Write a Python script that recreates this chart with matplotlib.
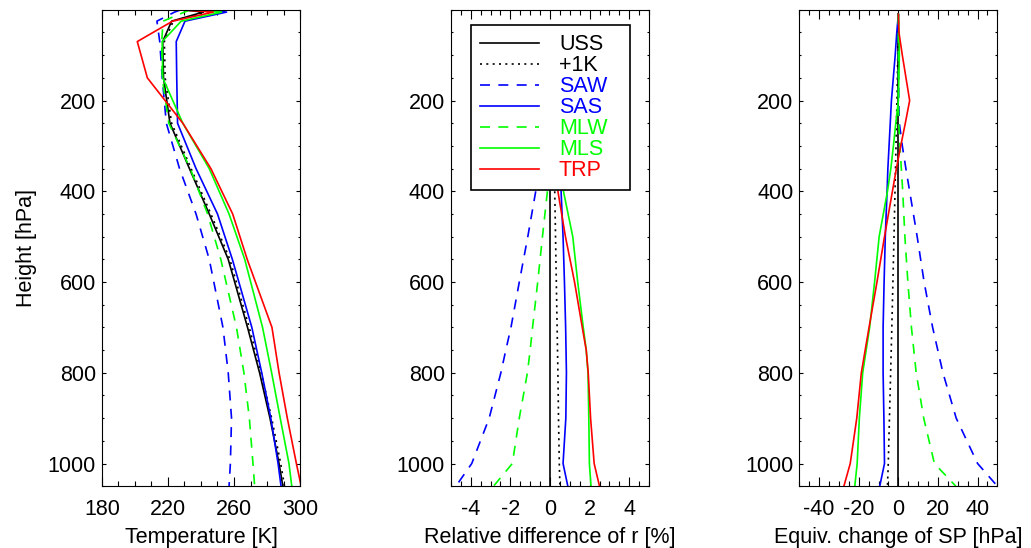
import matplotlib
matplotlib.use('Agg')
import matplotlib.pyplot as plt
from matplotlib.ticker import MultipleLocator

plt.rcParams['font.family'] = ['Liberation Sans', 'DejaVu Sans']
plt.rcParams['font.size'] = 15.5
plt.rcParams['axes.unicode_minus'] = False

names = ['USS', '+1K', 'SAW', 'SAS', 'MLW', 'MLS', 'TRP']
colors = ['black', 'black', 'blue', 'blue', '#00ff00', '#00ff00', 'red']
styles = ['-', (0, (1.2, 2.6)), (0, (6, 5)), '-', (0, (6, 5)), '-', '-']

# temperature profiles [K]
p_temp = [1, 5, 25, 70, 150, 250, 350, 450, 550, 700, 800, 900, 1000, 1050]
t_uss = [232, 241.4, 222.2, 216.8, 217.3, 221.2, 233, 245, 256.5, 268.2, 275.5, 281.8, 287.3, 289.6]
t_p1k = [233, 242.4, 223.2, 217.8, 218.3, 222.2, 234, 246, 257.5, 269.2, 276.5, 282.8, 288.3, 290.6]
t_saw = [227, 224, 213.3, 215, 216.5, 219, 227, 237, 245, 253.3, 256.5, 258.5, 257.8, 257]
t_sas = [245, 255.5, 230.3, 225, 225.3, 225.8, 237, 250, 259, 270.8, 276.8, 282.3, 286.7, 288.5]
t_mlw = [233, 230, 217, 216.2, 216.5, 220.5, 233.5, 244, 252, 261.5, 266, 269.3, 271.5, 272.5]
t_mls = [238, 252.5, 228, 216.5, 216.8, 229, 245, 257, 266.5, 277.3, 282.8, 288, 293.3, 295]
t_trp = [232, 247.5, 222.8, 201.4, 207.5, 229, 246, 259.2, 268, 283, 287.3, 292.3, 297.8, 300.7]

# relative difference of r [%], below 400 hPa
p_rel = [400, 500, 600, 700, 750, 800, 900, 1000, 1050]
r_uss = [0, 0, 0, 0, 0, 0, 0, 0, 0]
r_p1k = [0.24, 0.28, 0.32, 0.36, 0.38, 0.4, 0.43, 0.47, 0.5]
r_saw = [-0.72, -1.12, -1.55, -1.97, -2.23, -2.48, -3.07, -3.95, -4.75]
r_sas = [0.56, 0.66, 0.73, 0.79, 0.81, 0.83, 0.8, 0.66, 0.9]
r_mlw = [-0.13, -0.38, -0.62, -0.88, -1.0, -1.14, -1.55, -1.9, -2.85]
r_mls = [0.68, 1.15, 1.4, 1.68, 1.83, 1.92, 1.96, 1.99, 2.07]
r_trp = [0.4, 0.78, 1.24, 1.63, 1.83, 1.93, 2.05, 2.23, 2.5]

# equivalent change of surface pressure [hPa]
p_sp = [10, 50, 100, 200, 250, 300, 350, 400, 500, 600, 700, 800, 900, 1000, 1050]
s_uss = [0, 0, 0, 0, 0, 0, 0, 0, 0, 0, 0, 0, 0, 0, 0]
s_p1k = [0, -0.1, -0.3, -0.7, -0.95, -1.2, -1.45, -1.7, -2.2, -2.75, -3.3, -3.9, -4.5, -5.1, -5.5]
s_saw = [0, 0, 0, 0.2, 0.5, 2, 3.8, 5.7, 9.5, 13, 17.3, 22.5, 29.2, 40, 50]
s_sas = [0, -0.8, -1.6, -3.5, -4.1, -4.7, -5.3, -5.7, -6.6, -7.2, -7.7, -7.7, -7.3, -7.0, -9.4]
s_mlw = [0, 0, 0, 0, 0.2, 0.8, 1.5, 2.2, 3.3, 4.8, 6.6, 9.0, 12.8, 18.2, 29]
s_mls = [0, 0.3, 0.5, 0, -1.3, -2.5, -3.8, -5.5, -9.7, -12, -14.5, -18, -19.7, -20.8, -22]
s_trp = [0, 0.3, 2, 5.7, 3.5, 1.2, -1, -3, -7, -10.8, -14.8, -18.7, -21, -24.3, -27.5]

temp = [t_uss, t_p1k, t_saw, t_sas, t_mlw, t_mls, t_trp]
rel = [r_uss, r_p1k, r_saw, r_sas, r_mlw, r_mls, r_trp]
sp = [s_uss, s_p1k, s_saw, s_sas, s_mlw, s_mls, s_trp]

fig = plt.figure(figsize=(10.31, 5.48), dpi=100)
bottom, height, width = 0.1128, 0.8693, 0.1921
axes = [fig.add_axes([left, bottom, width, height])
        for left in (0.0989, 0.4374, 0.7753)]


def style(ax, xlim, xticks, minor, xlabel):
    ax.set_xlim(*xlim)
    ax.set_ylim(1050, 0)
    ax.set_xticks(xticks)
    ax.xaxis.set_minor_locator(MultipleLocator(minor))
    ax.set_yticks([200, 400, 600, 800, 1000])
    ax.yaxis.set_minor_locator(MultipleLocator(50))
    ax.tick_params(which='both', direction='in', top=True, right=True, width=0.8)
    ax.tick_params(axis='x', which='major', length=6.8, pad=9)
    ax.tick_params(axis='x', which='minor', length=3.4)
    ax.tick_params(axis='y', which='major', length=2.9, pad=4.3)
    ax.tick_params(axis='y', which='minor', length=1.5)
    for sp_ in ax.spines.values():
        sp_.set_linewidth(0.8)
    ax.set_xlabel(xlabel, labelpad=5)


for data, p, ax in ((temp, p_temp, axes[0]), (rel, p_rel, axes[1]), (sp, p_sp, axes[2])):
    for vals, name, c, ls in zip(data, names, colors, styles):
        ax.plot(vals, p, color=c, linestyle=ls, lw=1.2, label=name)

style(axes[0], (180, 300), [180, 220, 260, 300], 10, 'Temperature [K]')
style(axes[1], (-5, 5), [-4, -2, 0, 2, 4], 0.5, 'Relative difference of r [%]')
style(axes[2], (-50, 50), [-40, -20, 0, 20, 40], 5, 'Equiv. change of SP [hPa]')
axes[0].set_ylabel('Height [hPa]', labelpad=8)

leg = axes[1].legend(loc='upper left', bbox_to_anchor=(0.0996, 0.0, 0.806, 0.968),
                     mode='expand', borderaxespad=0, handlelength=2.75,
                     handletextpad=0.93, labelspacing=0.0, borderpad=0.42,
                     fancybox=False, framealpha=1, edgecolor='black',
                     labelcolor='linecolor', fontsize=15.5)
leg.get_frame().set_linewidth(1.2)

fig.savefig('out.png', dpi=100)
